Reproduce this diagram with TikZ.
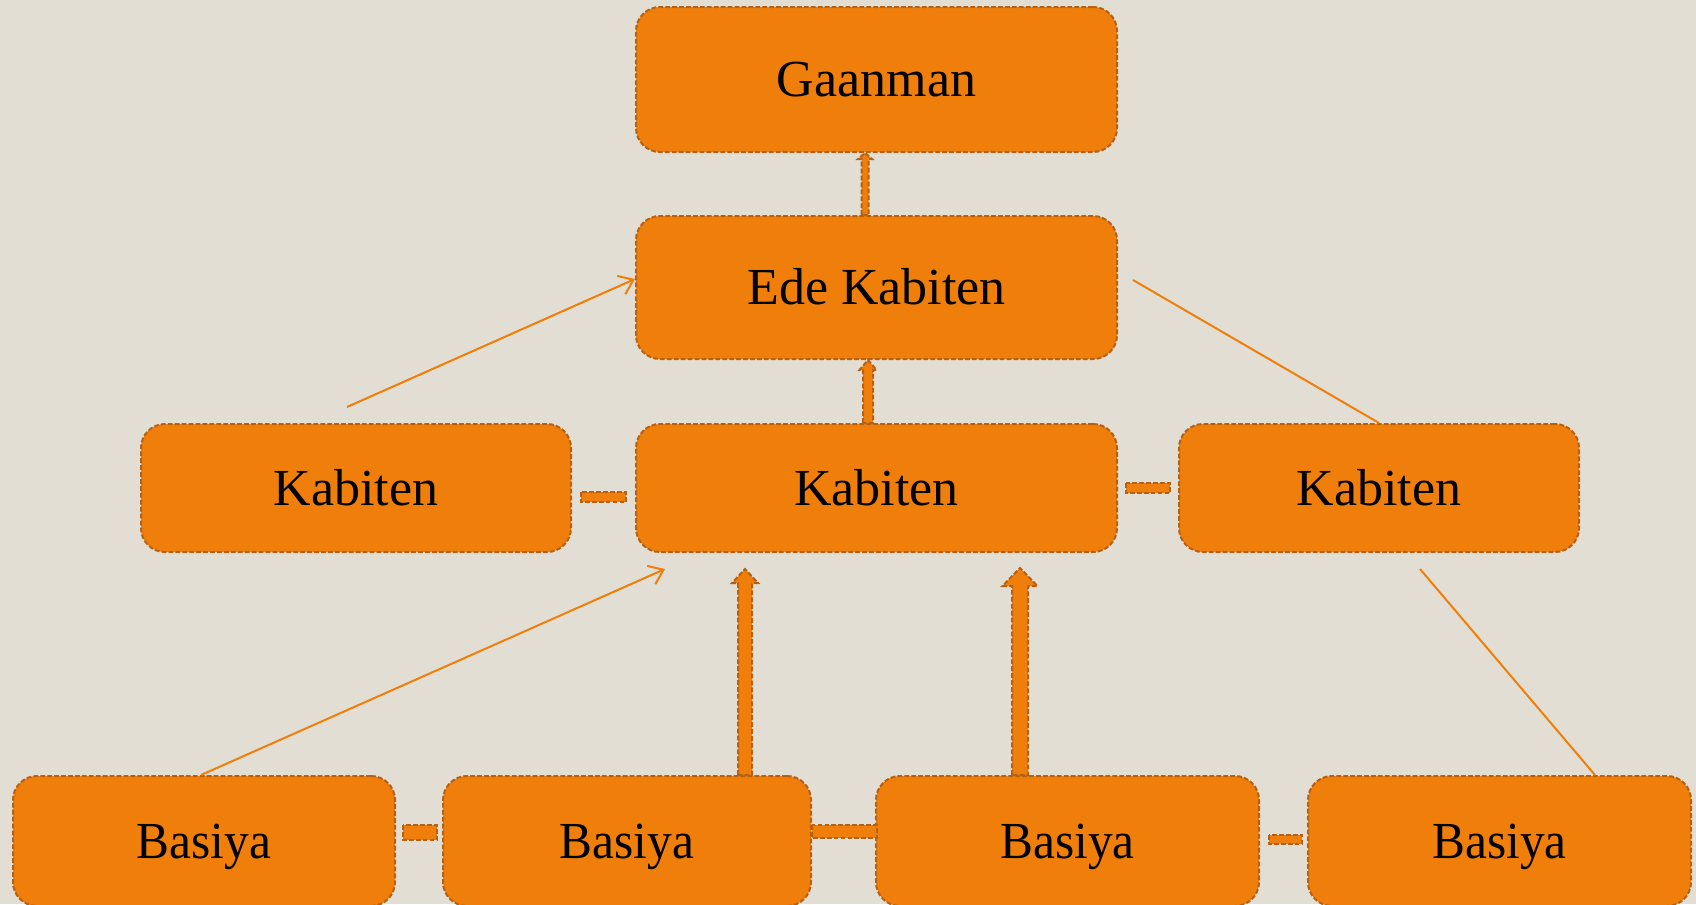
\documentclass[tikz,border=0pt]{standalone}
\usepackage{fontspec}
\setmainfont{Liberation Serif}
\usetikzlibrary{calc,arrows.meta}
\definecolor{bg}{RGB}{227,222,211}
\definecolor{fillor}{RGB}{239,127,10}
\definecolor{edgeor}{RGB}{182,96,20}
\tikzset{
  box/.style={draw=edgeor, fill=fillor, line width=1.5pt,
    dash pattern=on 3.6pt off 1.6pt, rounded corners=18pt, inner sep=0pt,
    text height=25.8pt, text depth=0pt, font=\fontsize{39}{45}\selectfont},
  sz/.style 2 args={minimum width=#1*0.75pt, minimum height=#2*0.75pt},
  link/.style={draw=edgeor, fill=fillor, line width=1.5pt,
    dash pattern=on 3.6pt off 1.6pt},
  thinline/.style={draw=fillor, line width=1.5pt},
  thinarrow/.style={thinline, -{Straight Barb[length=10pt,width=15pt]}},
}
% filled upward arrow: #1 base, #2 tip, #3 half shaft, #4 half head, #5 head length
\newcommand\blockarrow[5]{%
  \draw[link, line join=miter] ($(#1)+(-#3,0)$) -- ($(#2)+(-#3,#5)$)
    -- ($(#2)+(-#4,#5)$) -- (#2) -- ($(#2)+(#4,#5)$) -- ($(#2)+(#3,#5)$)
    -- ($(#1)+(#3,0)$) -- cycle;}
\begin{document}
\begin{tikzpicture}[x=0.75pt,y=-0.75pt]
\fill[bg] (0,0) rectangle (1696,904);
\useasboundingbox (0,0) rectangle (1696,904);
\clip (0,0) rectangle (1696,904);

% boxes
\node[box, sz={481}{145}] (gaan) at (876.5,79.5) {Gaanman};
\node[box, sz={481}{143}] (ede) at (876.5,287.5) {Ede Kabiten};
\node[box, sz={430}{128}] (kl) at (356,488) {Kabiten};
\node[box, sz={481}{128}] (km) at (876.5,488) {Kabiten};
\node[box, sz={400}{128}] (kr) at (1379,488) {Kabiten};
\node[box, sz={382}{130}] (b1) at (204,841) {\scalebox{0.95}[1]{Basiya}};
\node[box, sz={368}{130}] (b2) at (627,841) {\scalebox{0.95}[1]{Basiya}};
\node[box, sz={383}{130}] (b3) at (1067.5,841) {\scalebox{0.95}[1]{Basiya}};
\node[box, sz={383}{130}] (b4) at (1499.5,841) {\scalebox{0.95}[1]{Basiya}};

% short links between neighbours
\draw[link] ($(kl.east)+(9,4)$) rectangle ($(km.west)+(-9,14)$);
\draw[link] ($(km.east)+(8,-5)$) rectangle ($(kr.west)+(-8,5)$);
\draw[link] ($(b1.east)+(7,-16)$) rectangle ($(b2.west)+(-5,-1)$);
\draw[link] ($(b2.east)+(0,-16)$) rectangle ($(b3.west)+(2,-3)$);
\draw[link] ($(b3.east)+(9,-6)$) rectangle ($(b4.west)+(-5,3)$);

% block arrows
\coordinate (a1s) at ($(ede.north)+(-11.5,0)$);
\coordinate (a1e) at (a1s |- gaan.south);
\blockarrow{a1s}{a1e}{3.5}{7}{6}
\coordinate (a2s) at ($(km.north)+(-8.5,0)$);
\coordinate (a2e) at (a2s |- ede.south);
\blockarrow{a2s}{a2e}{5}{8.5}{10}
\coordinate (a3s) at ($(b2.north)+(118,0)$);
\coordinate (a3e) at ($(a3s |- km.south)+(0,16)$);
\blockarrow{a3s}{a3e}{7}{13}{14}
\coordinate (a4s) at ($(b3.north)+(-47.5,0)$);
\coordinate (a4e) at ($(a4s |- km.south)+(0,15)$);
\blockarrow{a4s}{a4e}{8}{17.5}{18}

% thin connectors
\coordinate (t1s) at ($(kl.north)+(-9,-16)$);
\coordinate (t1e) at ($(ede.west)+(0,-8.5)$);
\draw[thinarrow] (t1s) -- (t1e);
\coordinate (t2s) at ($(ede.east)+(15,-7.5)$);
\draw[thinline] (t2s) -- (kr.north);
\coordinate (t3e) at ($(km.south west)+(30,16)$);
\draw[thinarrow] ($(b1.north)+(-3,0)$) -- (t3e);
\coordinate (t4s) at ($(kr.south)+(41,16)$);
\coordinate (t4e) at ($(b4.north)+(95.5,0)$);
\draw[thinline] (t4s) -- (t4e);
\end{tikzpicture}
\end{document}
